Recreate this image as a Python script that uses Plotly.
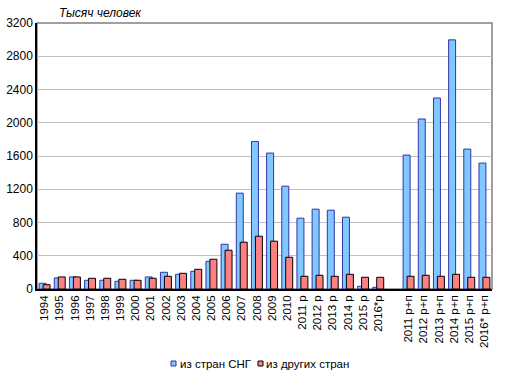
import plotly.graph_objects as go

categories = ["1994", "1995", "1996", "1997", "1998", "1999", "2000", "2001", "2002", "2003",
              "2004", "2005", "2006", "2007", "2008", "2009", "2010",
              "2011 р", "2012 р", "2013 р", "2014 р", "2015 р", "2016*р", "",
              "2011 р+п", "2012 р+п", "2013 р+п", "2014 р+п", "2015 р+п", "2016* р+п"]
cis = [69, 133, 145, 105, 105, 93, 105, 145, 201, 177,
       213, 334, 538, 1153, 1775, 1635, 1237,
       852, 960, 948, 864, 32, 20, None,
       1611, 2045, 2298, 2997, 1683, 1515]
other = [52, 145, 145, 129, 129, 117, 105, 129, 153, 189,
         237, 358, 466, 563, 635, 575, 382,
         153, 165, 153, 177, 141, 141, None,
         153, 165, 153, 177, 141, 141]
yticks = [0, 400, 800, 1200, 1600, 2000, 2400, 2800, 3200]
series_names = ["из стран СНГ", "из других стран"]
fills = ["#80C8FF", "#FF8080"]
outlines = ["#3333AA", "#000000"]

pos = list(range(len(categories)))

fig = go.Figure()
fig.add_trace(go.Bar(x=pos, y=cis, name=series_names[0], width=0.46, offset=-0.36,
                     marker=dict(color=fills[0], line=dict(color=outlines[0], width=1))))
fig.add_trace(go.Bar(x=pos, y=other, name=series_names[1], width=0.46, offset=-0.1,
                     marker=dict(color=fills[1], line=dict(color=outlines[1], width=1))))

W, H = 518, 383
L, R, T, B = 37, 26, 23, 94
pw, ph = W - L - R, H - T - B

def px(x):
    return (x - L) / pw

def py(y):
    return (H - B - y) / ph

shapes = [dict(type="rect", xref="paper", yref="paper", x0=0, y0=0, x1=1, y1=1,
               line=dict(color="#808080", width=1.5), layer="below")]
annotations = [dict(text="<i>Тысяч человек</i>", xref="paper", yref="paper",
                    x=px(57), y=py(13), xanchor="left", yanchor="middle",
                    showarrow=False, font=dict(size=12, color="black"))]
legend_items = [(171, 178), (258, 264)]
for (sx, tx), name, f, o in zip(legend_items, series_names, fills, outlines):
    shapes.append(dict(type="rect", xref="paper", yref="paper",
                       x0=px(sx), x1=px(sx + 5), y0=py(366), y1=py(361),
                       fillcolor=f, line=dict(color=o, width=1)))
    annotations.append(dict(text=name, xref="paper", yref="paper", x=px(tx), y=py(364),
                            xanchor="left", yanchor="middle", showarrow=False,
                            font=dict(size=11.5, color="black")))

fig.update_layout(
    width=W, height=H,
    margin=dict(l=L, r=R, t=T, b=B, autoexpand=False),
    barmode="overlay",
    plot_bgcolor="white", paper_bgcolor="white",
    font=dict(family="Liberation Sans, Arial, sans-serif", size=12, color="black"),
    showlegend=False,
    xaxis=dict(tickmode="array", tickvals=pos, ticktext=categories, tickangle=-90,
               range=[-0.5, len(categories) - 0.5], showgrid=False, automargin=False,
               showline=True, linecolor="black", linewidth=1.5, ticks="",
               tickfont=dict(size=11.5)),
    yaxis=dict(range=[0, 3200], tickmode="array", tickvals=yticks, automargin=False,
               showgrid=True, gridcolor="#C0C0C0", gridwidth=1,
               showline=True, linecolor="black", linewidth=1.5, ticks="",
               zeroline=False, tickfont=dict(size=12)),
    shapes=shapes,
    annotations=annotations,
)

fig.write_html("out.html", config={"displayModeBar": False},
               post_script="document.body.style.margin='0';")
